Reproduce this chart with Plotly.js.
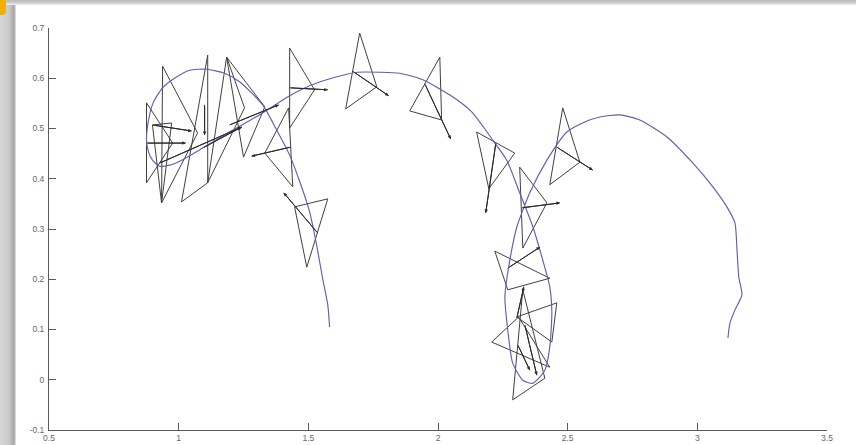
<!DOCTYPE html>
<html>
<head>
<meta charset="utf-8">
<script src="https://cdn.plot.ly/plotly-3.0.1.min.js"></script>
<style>
  html, body { margin: 0; padding: 0; width: 856px; height: 445px; overflow: hidden; background: #ffffff; }
  #leftEdge { position: absolute; left: 0; top: 0; width: 16px; height: 445px;
    background: linear-gradient(to right, #d6d6d6 0px, #cacaca 9px, #a6a6a6 14px, #e8e8e8 16px); }
  #topEdge { position: absolute; left: 0; top: 0; width: 856px; height: 5px;
    background: linear-gradient(to bottom, #b8b8b8 0px, #cfcfcf 3px, #f2f2f2 5px); }
  #corner { position: absolute; left: 0; top: 0; width: 6px; height: 15px; background: #f2b100;
    border-bottom-right-radius: 4px; }
  #chart { position: absolute; left: 0; top: 0; width: 856px; height: 445px; }
</style>
</head>
<body>
<div id="leftEdge"></div>
<div id="topEdge"></div>
<div id="corner"></div>
<div id="chart"></div>
<script>
// ---- trajectory (blue curve) ----
const pathX = [1.582,1.575,1.555,1.532,1.505,1.467,1.428,1.378,1.324,1.235,1.177,1.108,1.042,0.984,0.938,0.903,0.884,0.876,0.884,0.899,0.926,0.965,1.004,1.092,1.196,1.324,1.428,1.505,1.602,1.690,1.775,1.852,1.941,2.045,2.130,2.211,2.265,2.315,2.366,2.404,2.431,2.439,2.431,2.412,2.366,2.327,2.288,2.269,2.258,2.277,2.304,2.354,2.420,2.497,2.566,2.624,2.701,2.778,2.883,2.983,3.060,3.114,3.145,3.153,3.160,3.172,3.145,3.126,3.118];
const pathY = [0.105,0.149,0.202,0.268,0.334,0.394,0.447,0.497,0.547,0.593,0.610,0.618,0.616,0.600,0.581,0.553,0.517,0.477,0.453,0.437,0.425,0.427,0.435,0.461,0.493,0.531,0.565,0.585,0.602,0.612,0.612,0.610,0.597,0.567,0.533,0.477,0.437,0.372,0.304,0.238,0.185,0.133,0.065,0.019,-0.007,-0.001,0.033,0.099,0.165,0.238,0.304,0.372,0.437,0.493,0.513,0.523,0.527,0.517,0.483,0.431,0.384,0.344,0.312,0.258,0.204,0.169,0.139,0.113,0.083];

// ---- agent glyphs: triangle vertices and heading arrows ----
const triX1 = [0.876,0.938,1.112,1.185,1.185,1.428,1.698,2.007,1.575,1.424,2.149,2.481,2.315,2.219,2.207,2.458,2.288,0.899];
const triY1 = [0.551,0.624,0.646,0.642,0.642,0.660,0.690,0.642,0.360,0.541,0.493,0.541,0.423,0.256,0.075,0.153,-0.040,0.507];
const triX2 = [0.876,0.934,1.011,1.112,1.250,1.428,1.644,1.891,1.494,1.440,2.296,2.431,2.327,2.431,2.311,2.304,2.327,0.934];
const triY2 = [0.392,0.352,0.354,0.392,0.443,0.501,0.539,0.535,0.224,0.384,0.451,0.388,0.262,0.202,0.125,0.125,0.179,0.352];
const triX3 = [0.977,1.073,1.112,1.254,1.332,1.524,1.764,2.014,1.447,1.332,2.196,2.547,2.420,2.269,2.431,2.439,2.412,0.973];
const triY3 = [0.471,0.491,0.392,0.541,0.543,0.577,0.583,0.517,0.344,0.451,0.380,0.433,0.352,0.179,0.025,0.075,0.003,0.511];
const arrX0 = [0.876,0.899,1.092,1.100,1.196,1.428,1.671,1.949,1.536,1.432,2.223,2.458,2.323,2.269,2.304,2.335,2.308,0.926];
const arrY0 = [0.471,0.507,0.461,0.547,0.507,0.581,0.614,0.589,0.292,0.463,0.471,0.463,0.342,0.222,0.123,0.109,0.069,0.431];
const arrX1 = [1.027,1.050,1.243,1.100,1.386,1.575,1.810,2.049,1.405,1.281,2.184,2.597,2.470,2.393,2.331,2.381,2.354,1.243];
const arrY1 = [0.471,0.495,0.503,0.487,0.547,0.577,0.565,0.479,0.372,0.445,0.332,0.417,0.352,0.264,0.185,0.009,0.019,0.503];

// ---- axis ticks ----
const xTickVals = [0.5,1,1.5,2,2.5,3,3.5];
const xTickText = ['0.5','1','1.5','2','2.5','3','3.5'];
const yTickVals = [-0.1,0,0.1,0.2,0.3,0.4,0.5,0.6,0.7];
const yTickText = ['-0.1','0','0.1','0.2','0.3','0.4','0.5','0.6','0.7'];

const tx = [], ty = [];
for (let i = 0; i < triX1.length; i++) {
  tx.push(triX1[i], triX2[i], triX3[i], triX1[i], null);
  ty.push(triY1[i], triY2[i], triY3[i], triY1[i], null);
}
const shafts = { x: [], y: [] };
for (let i = 0; i < arrX0.length; i++) {
  shafts.x.push(arrX0[i], arrX1[i], null);
  shafts.y.push(arrY0[i], arrY1[i], null);
}

const traces = [
  { x: tx, y: ty, mode: 'lines', type: 'scatter', line: { color: '#404040', width: 1 }, hoverinfo: 'skip', showlegend: false },
  { x: shafts.x, y: shafts.y, mode: 'lines', type: 'scatter', line: { color: '#2a2a2a', width: 1 }, hoverinfo: 'skip', showlegend: false },
  { x: pathX, y: pathY, mode: 'lines', type: 'scatter', line: { color: '#5f5fb3', width: 1.15, shape: 'spline', smoothing: 0.6 }, hoverinfo: 'skip', showlegend: false }
];

const annotations = arrX0.map((_, i) => ({
  x: arrX1[i], y: arrY1[i], ax: arrX0[i], ay: arrY0[i], xref: 'x', yref: 'y', axref: 'x', ayref: 'y',
  text: '', showarrow: true, arrowhead: 2, arrowsize: 0.7, arrowwidth: 1, arrowcolor: '#2a2a2a', standoff: 0
}));

const axisCommon = {
  showgrid: false, zeroline: false, showline: true, linecolor: '#5a5a5a', linewidth: 1,
  ticks: 'inside', ticklen: 7, tickcolor: '#5a5a5a', tickwidth: 1,
  tickfont: { family: 'Liberation Sans, Arial, sans-serif', size: 8.5, color: '#666666' },
  tickmode: 'array', fixedrange: true
};

const layout = {
  width: 856, height: 445,
  margin: { l: 49, r: 29, t: 28, b: 15, pad: 0 },
  paper_bgcolor: 'rgba(0,0,0,0)', plot_bgcolor: '#ffffff',
  xaxis: Object.assign({}, axisCommon, { range: [0.5, 3.5], tickvals: xTickVals, ticktext: xTickText, ticklabelstandoff: 0 }),
  yaxis: Object.assign({}, axisCommon, { range: [-0.1, 0.7], tickvals: yTickVals, ticktext: yTickText, ticklabelstandoff: 2 }),
  annotations: annotations,
  showlegend: false
};

Plotly.newPlot('chart', traces, layout, { displayModeBar: false, staticPlot: true });
</script>
</body>
</html>
